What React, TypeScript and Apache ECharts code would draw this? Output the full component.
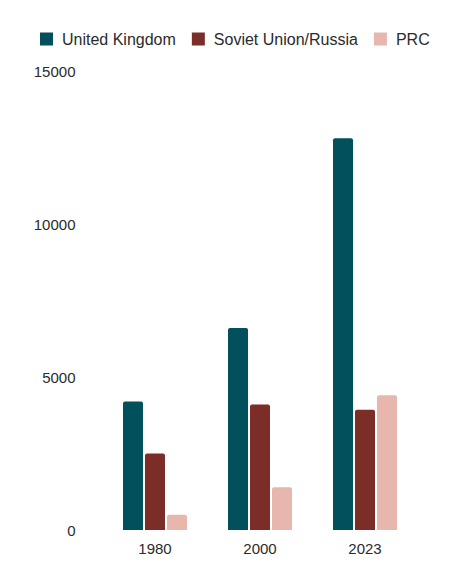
import React, { useEffect, useRef } from "react";
import * as echarts from "echarts";

const categories = ["1980", "2000", "2023"];
const seriesNames = ["United Kingdom", "Soviet Union/Russia", "PRC"];
const ukValues = [4200, 6600, 12800];
const russiaValues = [2500, 4100, 3930];
const prcValues = [500, 1400, 4400];
const colors = ["#02505c", "#7b2d27", "#e7b6ad"];
const yTicks = { min: 0, max: 15000, interval: 5000 };

const FONT = "'Liberation Sans', Arial, sans-serif";

export default function App() {
  const ref = useRef<HTMLDivElement>(null);
  useEffect(() => {
    if (!ref.current) return;
    const chart = echarts.init(ref.current, null, { renderer: "svg" });
    const data = [ukValues, russiaValues, prcValues];
    chart.setOption({
      animation: false,
      textStyle: { fontFamily: FONT },
      legend: {
        top: 26,
        left: 35,
        itemWidth: 13,
        itemHeight: 13,
        itemGap: 16,
        icon: "rect",
        textStyle: { fontSize: 16, color: "#2b2b2b", fontFamily: FONT, padding: [0, 0, 0, 4] },
        data: seriesNames,
      },
      grid: { left: 102.5, right: 46.5, top: 71, bottom: 58, containLabel: false },
      xAxis: {
        type: "category",
        data: categories,
        axisLine: { show: false },
        axisTick: { show: false },
        axisLabel: { fontSize: 15, color: "#2b2b2b", fontFamily: FONT, margin: 11 },
      },
      yAxis: {
        type: "value",
        min: yTicks.min,
        max: yTicks.max,
        interval: yTicks.interval,
        splitLine: { show: false },
        axisLine: { show: false },
        axisTick: { show: false },
        axisLabel: {
          fontSize: 15,
          color: "#2b2b2b",
          fontFamily: FONT,
          margin: 27,
          formatter: (v: number) => String(v),
        },
      },
      series: seriesNames.map((name, i) => ({
        name,
        type: "bar",
        data: data[i],
        barWidth: 20,
        barGap: "10%",
        itemStyle: { color: colors[i], borderRadius: [2, 2, 0, 0] },
      })),
    });
    return () => chart.dispose();
  }, []);
  return (
    <div
      ref={ref}
      style={{ position: "absolute", left: 0, top: 0, width: 464, height: 588 }}
    />
  );
}
